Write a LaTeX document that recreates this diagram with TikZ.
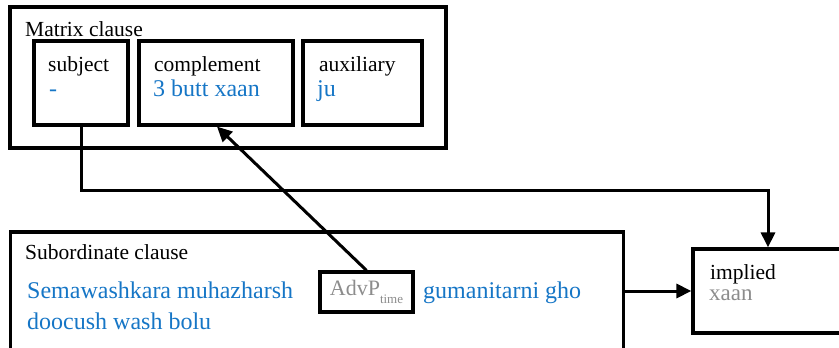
\documentclass[tikz,border=0pt]{standalone}
\usepackage{fontspec}
\setmainfont{Liberation Serif}
\usetikzlibrary{arrows.meta, positioning}
\definecolor{wordblue}{RGB}{22,118,198}
\definecolor{wordgray}{RGB}{140,140,140}
\tikzstyle{clausebox}=[draw, line width=3.2pt, inner sep=0pt]
\tikzstyle{lbl}=[anchor=base west, inner sep=0pt, font=\fontsize{21.5}{24}\selectfont]
\tikzstyle{word}=[lbl, text=wordblue, font=\fontsize{24}{28}\selectfont]
\tikzstyle{link}=[line width=3pt, -{Triangle[length=15pt, width=14pt]}]
\newcommand{\clausebox}{\node[clausebox]}

\begin{document}
\begin{tikzpicture}[x=1pt, y=-1pt]
    \clip (0,0) rectangle (839,348);
    % matrix clause
    \clausebox[minimum width=436pt, minimum height=141pt] (matrix) at (228,77.5) {};
    \clausebox[minimum width=94pt, minimum height=84pt] (subj) at (81,83) {};
    \clausebox[minimum width=154pt, minimum height=84pt] (comp) at (216,83) {};
    \clausebox[minimum width=119pt, minimum height=84pt] (aux) at (362.5,83) {};
    \node[lbl] (matrixlbl) at (25,36.5) {Matrix clause};
    \node[lbl] (subjlbl) at (48,71) {subject};
    \node[word] (subjw) at (49,96) {-};
    \node[lbl] (complbl) at (154,71) {complement};
    \node[word] (compw) at (153,96) {3 butt xaan};
    \node[lbl] (auxlbl) at (319,71) {auxiliary};
    \node[word] (auxw) at (317,96) {ju};
    % subordinate clause
    \clausebox[minimum width=613pt, minimum height=140pt] (sub) at (317,302) {};
    \node[lbl] (sublbl) at (25,259) {Subordinate clause};
    \node[word] (subw1) at (27,298) {Semawashkara muhazharsh};
    \node[word] (subw2) at (27,329) {doocush wash bolu};
    \clausebox[minimum width=93pt, minimum height=40pt, text=wordgray,
        font=\fontsize{22}{24}\selectfont] (advp) at (366.5,292)
        {AdvP\raisebox{-0.35em}{\fontsize{13}{13}\selectfont time}};
    \node[word] (subw3) at (423,298) {gumanitarni gho};
    % implied
    \clausebox[minimum width=160pt, minimum height=84pt] (impl) at (773,291) {};
    \node[lbl] (impllbl) at (710,279) {implied};
    \node[lbl, text=wordgray, font=\fontsize{23}{26}\selectfont] (implw) at (709,300) {xaan};
    % links
    \coordinate (bend) at (768,190);
    \draw[link] (subj.south) |- (bend) -- (bend |- impl.north);
    \draw[link] (advp.north) -- ([xshift=1pt]comp.south);
    \draw[link] (sub.east |- impl.west) -- (impl.west);
\end{tikzpicture}
\end{document}
